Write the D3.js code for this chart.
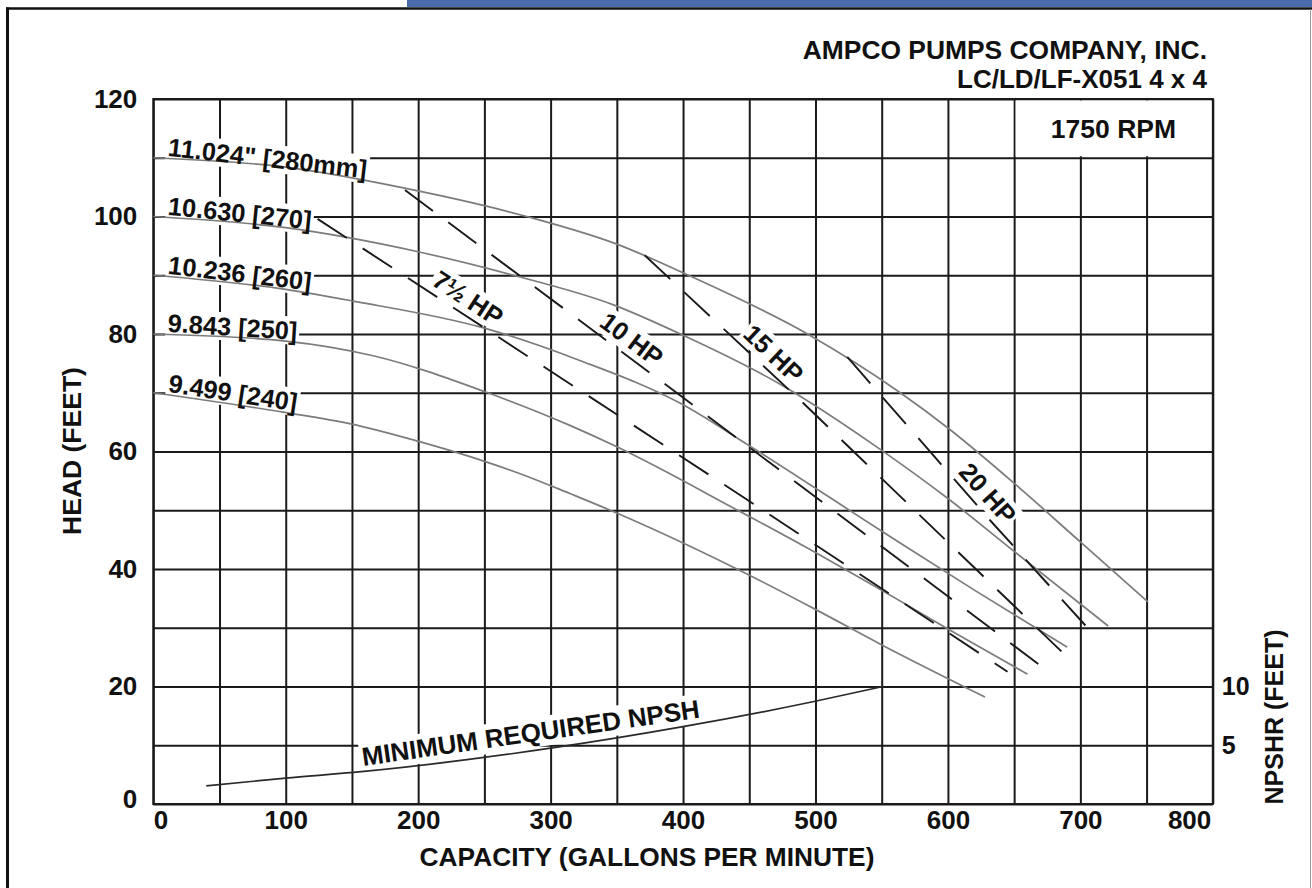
<!DOCTYPE html>
<html>
<head>
<meta charset="utf-8">
<script src="https://cdn.jsdelivr.net/npm/d3@7"></script>
<style>
  html, body { margin: 0; padding: 0; background: #fff; }
  svg { display: block; }
</style>
</head>
<body>
<svg id="chart" width="1312" height="888"></svg>
<script>
// ---- Impeller diameter curves: capacity (US gpm) vs. total head (ft) ----
const impellerNames = ['11.024" [280mm]', '10.630 [270]', '10.236 [260]', '9.843 [250]', '9.499 [240]'];
const flow280 = [0, 100, 186, 282, 350, 404, 494, 564, 600, 650, 700, 751];
const head280 = [110, 108.4, 105, 100, 95.3, 90, 80, 70, 64, 54.6, 44.6, 34.4];
const flow270 = [0, 100, 200, 272, 347, 398, 473, 550, 600, 650, 721];
const head270 = [100, 98.1, 94, 90, 85, 80, 71.5, 60.2, 52, 43, 30.3];
const flow260 = [0, 100, 151, 250, 322, 398, 450, 551, 620, 690];
const head260 = [90, 87.6, 85.6, 81, 75.5, 68.2, 61, 46.3, 36.4, 26.7];
const flow250 = [0, 100, 166, 250, 315, 350, 438, 500, 550, 600, 660];
const head250 = [80, 78.8, 76.3, 70.2, 64.4, 60.8, 50.4, 42.8, 36.4, 29.8, 22.1];
const flow240 = [0, 98, 149, 199, 249, 282, 315, 345, 438, 501, 549, 628];
const head240 = [70, 66.7, 64.7, 61.8, 58.4, 55.8, 52.8, 50, 40.3, 33, 27.2, 18.2];

// ---- Motor power lines ----
const hpNames = ['7½ HP', '10 HP', '15 HP', '20 HP'];
const hp7Flow = [124, 445, 645];   const hp7Head = [99.6, 52.3, 22.5];
const hp10Flow = [190, 385, 669];  const hp10Head = [104.5, 71.7, 23.7];
const hp15Flow = [371, 490, 686];  const hp15Head = [93.4, 68.4, 25.9];
const hp20Flow = [524, 633, 705];  const hp20Head = [76.1, 48, 30.1];

// ---- Minimum required NPSH (ft, right-hand scale) ----
const npshFlow = [40, 100, 157, 300, 401, 498, 551];
const npshFeet = [1.55, 2.2, 2.75, 4.75, 6.6, 8.7, 10];

// ---- Tick labels ----
const flowTickLabels = [0, 100, 200, 300, 400, 500, 600, 700, 800];
const headTickLabels = [0, 20, 40, 60, 80, 100, 120];
const npshTickLabels = [5, 10];

// label placement along the power lines (capacity where each tag sits)
const hpLabelFlow = [231, 354, 460, 621];

const FONT = '"Liberation Sans", Arial, Helvetica, sans-serif';
const INK = '#111';

const svg = d3.select('#chart');
const x = d3.scaleLinear().domain([0, 800]).range([153.3, 1212.8]);
const y = d3.scaleLinear().domain([0, 120]).range([804, 99]);
const yN = d3.scaleLinear().domain([0, 60]).range([804, 99]);

// page frame
svg.append('rect').attr('x', 407).attr('y', 0).attr('width', 905).attr('height', 7).attr('fill', '#4b6aa9');
svg.append('line').attr('x1', 6).attr('x2', 1312).attr('y1', 8.5).attr('y2', 8.5)
  .attr('stroke', INK).attr('stroke-width', 2.6);
svg.append('line').attr('x1', 7.5).attr('x2', 7.5).attr('y1', 7.5).attr('y2', 888)
  .attr('stroke', INK).attr('stroke-width', 3);
svg.append('line').attr('x1', 1310.5).attr('x2', 1310.5).attr('y1', 9).attr('y2', 888)
  .attr('stroke', '#999').attr('stroke-width', 1);

const gridLayer = svg.append('g');
const knockLayer = svg.append('g');
const markLayer = svg.append('g');
const textLayer = svg.append('g');

// grid: every 50 gpm and every 10 ft
gridLayer.append('g')
  .attr('transform', `translate(0,${y(0)})`)
  .call(d3.axisBottom(x).tickValues(d3.range(0, 801, 50)).tickSize(-(y(0) - y(120))).tickFormat(''))
  .call(g => g.select('.domain').remove());
gridLayer.append('g')
  .attr('transform', `translate(${x(0)},0)`)
  .call(d3.axisLeft(y).tickValues(d3.range(0, 121, 10)).tickSize(-(x(800) - x(0))).tickFormat(''))
  .call(g => g.select('.domain').remove());
gridLayer.selectAll('.tick line').attr('stroke', '#1a1a1a').attr('stroke-width', 2);
gridLayer.append('rect')
  .attr('x', x(0)).attr('y', y(120)).attr('width', x(800) - x(0)).attr('height', y(0) - y(120))
  .attr('fill', 'none').attr('stroke', '#1a1a1a').attr('stroke-width', 2);

// speed box in the top-right cell block
gridLayer.append('rect')
  .attr('x', x(650) + 1.5).attr('y', y(120) + 1.5)
  .attr('width', x(800) - x(650) - 3).attr('height', y(110) - y(120) - 3)
  .attr('fill', '#fff');
textLayer.append('text')
  .attr('x', (x(650) + x(800)) / 2).attr('y', (y(120) + y(110)) / 2 + 9.5)
  .attr('text-anchor', 'middle').attr('font-family', FONT).attr('font-size', 26.5)
  .attr('font-weight', 'bold').attr('fill', INK).text('1750 RPM');

// axes
function styleAxisText(sel, size) {
  sel.select('.domain').remove();
  sel.selectAll('text').attr('font-family', FONT).attr('font-size', size)
    .attr('font-weight', 'bold').attr('fill', INK);
}
const axLeft = svg.append('g').attr('transform', `translate(${x(0)},0)`)
  .call(d3.axisLeft(y).tickValues(headTickLabels).tickSize(0).tickPadding(16));
styleAxisText(axLeft, 26);
axLeft.selectAll('.tick').filter(d => d === 0).select('text').attr('dy', '0.15em');

const axBottom = svg.append('g').attr('transform', `translate(0,${y(0)})`)
  .call(d3.axisBottom(x).tickValues(flowTickLabels).tickSize(0).tickPadding(6.5));
styleAxisText(axBottom, 26);
axBottom.selectAll('.tick').filter(d => d === 0).select('text').attr('text-anchor', 'start');
axBottom.selectAll('.tick').filter(d => d === 800).select('text').attr('text-anchor', 'end').attr('x', -2);

const axRight = svg.append('g').attr('transform', `translate(${x(800)},0)`)
  .call(d3.axisRight(yN).tickValues(npshTickLabels).tickSize(0).tickPadding(9));
styleAxisText(axRight, 25);

// titles
function title(txt, tx, ty, rot, anchor, size) {
  svg.append('text')
    .attr('transform', `translate(${tx},${ty}) rotate(${rot})`)
    .attr('text-anchor', anchor).attr('font-family', FONT).attr('font-size', size)
    .attr('font-weight', 'bold').attr('fill', INK).text(txt);
}
title('AMPCO PUMPS COMPANY, INC.', 1207, 59, 0, 'end', 26.4);
title('LC/LD/LF-X051 4 x 4', 1207, 88, 0, 'end', 26);
title('HEAD (FEET)', 81, 451, -90, 'middle', 26.5);
title('NPSHR (FEET)', 1283, 717, -90, 'middle', 25);
title('CAPACITY (GALLONS PER MINUTE)', 647, 866, 0, 'middle', 26.3);

// curves
const impFlows = [flow280, flow270, flow260, flow250, flow240];
const impHeads = [head280, head270, head260, head250, head240];
const smooth = d3.line().x(d => x(d[0])).y(d => y(d[1])).curve(d3.curveMonotoneX);
impFlows.forEach((fl, i) => {
  markLayer.append('path')
    .attr('d', smooth(d3.zip(fl, impHeads[i])))
    .attr('fill', 'none').attr('stroke', '#7c7c7c').attr('stroke-width', 1.7);
});

const hpFlows = [hp7Flow, hp10Flow, hp15Flow, hp20Flow];
const hpHeads = [hp7Head, hp10Head, hp15Head, hp20Head];
const straight = d3.line().x(d => x(d[0])).y(d => y(d[1]));
hpFlows.forEach((fl, i) => {
  markLayer.append('path')
    .attr('d', straight(d3.zip(fl, hpHeads[i])))
    .attr('fill', 'none').attr('stroke', '#1a1a1a').attr('stroke-width', 1.9)
    .attr('stroke-dasharray', '35,19');
});

const npshLine = d3.line().x(d => x(d[0])).y(d => yN(d[1])).curve(d3.curveMonotoneX);
markLayer.append('path')
  .attr('d', npshLine(d3.zip(npshFlow, npshFeet)))
  .attr('fill', 'none').attr('stroke', '#2a2a2a').attr('stroke-width', 1.7);

// labels with a white knockout behind them
function label(txt, size, weight, anchor) {
  const g = textLayer.append('g');
  const t = g.append('text').attr('font-family', FONT).attr('font-size', size)
    .attr('font-weight', weight).attr('text-anchor', anchor).attr('fill', INK).text(txt);
  return { g, t };
}
function knockout(lab, transform) {
  lab.g.attr('transform', transform);
  const b = lab.t.node().getBBox();
  knockLayer.append('rect').attr('transform', transform)
    .attr('x', b.x - 2).attr('y', b.y).attr('width', b.width + 4).attr('height', b.height)
    .attr('fill', '#fff');
}
const deg = (dx, dy) => Math.atan2(dy, dx) * 180 / Math.PI;

// diameter tags ride along the start of each curve
impFlows.forEach((fl, i) => {
  const f = d3.scaleLinear().domain(fl).range(impHeads[i]);
  const lab = label(impellerNames[i], 25.4, 'bold', 'start');
  lab.t.attr('y', -3);
  const w = lab.t.node().getComputedTextLength();
  const px0 = 167, px1 = px0 + w;
  const py0 = y(f(x.invert(px0))), py1 = y(f(x.invert(px1)));
  knockout(lab, `translate(${px0},${py0}) rotate(${deg(px1 - px0, py1 - py0)})`);
});

// power tags sit just above their dashed lines
hpFlows.forEach((fl, i) => {
  const hd = hpHeads[i];
  const f = d3.scaleLinear().domain(fl).range(hd);
  const a = deg(x(fl[fl.length - 1]) - x(fl[0]), y(hd[hd.length - 1]) - y(hd[0]));
  const q = hpLabelFlow[i];
  const lab = label(hpNames[i], 25.5, 'bold', 'middle');
  lab.t.attr('y', -7);
  knockout(lab, `translate(${x(q)},${y(f(q))}) rotate(${a})`);
});

// NPSH tag
{
  const f = d3.scaleLinear().domain(npshFlow).range(npshFeet);
  const lab = label('MINIMUM REQUIRED NPSH', 26, 'bold', 'start');
  lab.t.attr('y', -5.5);
  const w = lab.t.node().getComputedTextLength();
  const px0 = 364, px1 = px0 + w;
  const py0 = yN(f(x.invert(px0))), py1 = yN(f(x.invert(px1)));
  knockout(lab, `translate(${px0},${py0}) rotate(${deg(px1 - px0, py1 - py0)})`);
}
</script>
</body>
</html>
